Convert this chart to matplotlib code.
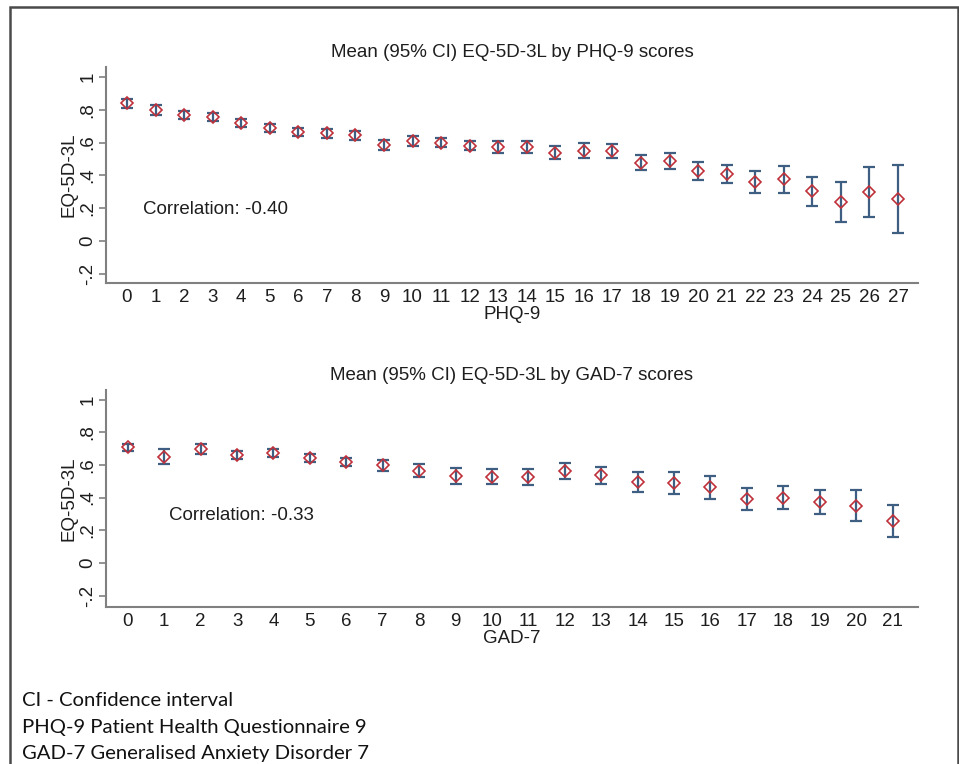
import numpy as np
import matplotlib
matplotlib.use("Agg")
import matplotlib.pyplot as plt
from matplotlib.patches import Rectangle

# PHQ-9 scores vs mean EQ-5D-3L
phq_scores = list(range(28))
phq_mean = [0.84, 0.80, 0.766, 0.754, 0.72, 0.689, 0.664, 0.656, 0.643, 0.584,
            0.609, 0.598, 0.582, 0.574, 0.572, 0.539, 0.551, 0.549, 0.477, 0.488,
            0.426, 0.410, 0.359, 0.379, 0.303, 0.238, 0.299, 0.256]
phq_lo = [0.812, 0.770, 0.741, 0.729, 0.695, 0.664, 0.639, 0.629, 0.616, 0.554,
          0.581, 0.570, 0.552, 0.539, 0.535, 0.498, 0.506, 0.506, 0.430, 0.436,
          0.371, 0.352, 0.291, 0.295, 0.213, 0.119, 0.148, 0.049]
phq_hi = [0.868, 0.830, 0.791, 0.779, 0.745, 0.714, 0.689, 0.683, 0.670, 0.614,
          0.637, 0.626, 0.612, 0.609, 0.609, 0.578, 0.596, 0.590, 0.527, 0.537,
          0.484, 0.465, 0.426, 0.457, 0.393, 0.357, 0.453, 0.463]

# GAD-7 scores vs mean EQ-5D-3L
gad_scores = list(range(22))
gad_mean = [0.709, 0.652, 0.697, 0.660, 0.672, 0.645, 0.617, 0.598, 0.564, 0.535,
            0.529, 0.525, 0.566, 0.537, 0.496, 0.488, 0.463, 0.391, 0.400, 0.373,
            0.352, 0.258]
gad_err = [0.020, 0.045, 0.030, 0.025, 0.025, 0.025, 0.025, 0.035, 0.040, 0.049,
           0.045, 0.048, 0.049, 0.051, 0.060, 0.067, 0.068, 0.068, 0.069, 0.072,
           0.096, 0.096]

ytick_vals = [-0.2, 0, 0.2, 0.4, 0.6, 0.8, 1]
ytick_labels = ['-.2', '0', '.2', '.4', '.6', '.8', '1']

plt.rcParams['font.family'] = ['Liberation Sans', 'DejaVu Sans']

fig = plt.figure(figsize=(9.59, 7.64), dpi=100)

# frame around the whole thing
W, H = 959, 764
fig.patches.append(Rectangle((10 / W, -0.01), (958 - 10) / W, 1 - 7 / H + 0.01,
                             transform=fig.transFigure, fill=False,
                             edgecolor='#4a4a4a', linewidth=1.8))

err_col = '#3e5f82'
mk_col = '#c0303a'
axis_col = '#808080'
txt_col = '#1e1e1e'
fs = 13.5


def panel(ax, x, y, lo, hi, title, xlab, xlim, ylim, corr_txt, corr_xy):
    yerr = [np.array(y) - np.array(lo), np.array(hi) - np.array(y)]
    ax.errorbar(x, y, yerr=yerr, fmt='none', ecolor=err_col, elinewidth=1.6,
                capsize=4, capthick=1.6, zorder=2)
    # hollow diamonds, the CI line shows through
    ax.plot(x, y, linestyle='none', marker='D', markersize=6,
            markerfacecolor='none', markeredgecolor=mk_col,
            markeredgewidth=1.2, zorder=3)
    ax.set_xlim(*xlim)
    ax.set_ylim(*ylim)
    ax.set_xticks(x)
    ax.set_xticklabels([str(v) for v in x], fontsize=fs)
    ax.set_yticks(ytick_vals)
    ax.set_yticklabels(ytick_labels, fontsize=fs, rotation=90, va='center')
    ax.tick_params(axis='x', length=0, pad=4, colors=txt_col)
    ax.tick_params(axis='y', length=5, width=1.2, color=axis_col, pad=2,
                   labelcolor=txt_col)
    for s in ['top', 'right']:
        ax.spines[s].set_visible(False)
    for s in ['left', 'bottom']:
        ax.spines[s].set_color(axis_col)
        ax.spines[s].set_linewidth(1.5)
    ax.set_title(title, fontsize=fs, pad=7, color=txt_col)
    ax.set_xlabel(xlab, fontsize=fs, labelpad=0, color=txt_col)
    ax.set_ylabel('EQ-5D-3L', fontsize=fs, labelpad=1, color=txt_col)
    ax.text(corr_xy[0], corr_xy[1], corr_txt, fontsize=fs, va='center',
            ha='left', color=txt_col)


ax1 = fig.add_axes([106 / W, 1 - 283 / H, (918 - 106) / W, (283 - 67) / H])
panel(ax1, phq_scores, phq_mean, phq_lo, phq_hi,
      'Mean (95% CI) EQ-5D-3L by PHQ-9 scores', 'PHQ-9',
      (-0.735, 27.7), (-0.255, 1.06), 'Correlation: -0.40', (0.55, 0.195))

gad_lo = [m - e for m, e in zip(gad_mean, gad_err)]
gad_hi = [m + e for m, e in zip(gad_mean, gad_err)]
ax2 = fig.add_axes([106 / W, 1 - 607 / H, (918 - 106) / W, (607 - 390) / H])
panel(ax2, gad_scores, gad_mean, gad_lo, gad_hi,
      'Mean (95% CI) EQ-5D-3L by GAD-7 scores', 'GAD-7',
      (-0.6, 21.7), (-0.27, 1.06), 'Correlation: -0.33', (1.13, 0.29))

# footnote
notes = ['CI - Confidence interval',
         'PHQ-9 Patient Health Questionnaire 9',
         'GAD-7 Generalised Anxiety Disorder 7']
for i, t in enumerate(notes):
    fig.text(22 / W, 1 - (700 + 27 * i) / H, t, fontsize=14.6,
             family=['Lato', 'DejaVu Sans'], va='center', ha='left',
             color='#111111')

fig.savefig('out.png', dpi=100)
